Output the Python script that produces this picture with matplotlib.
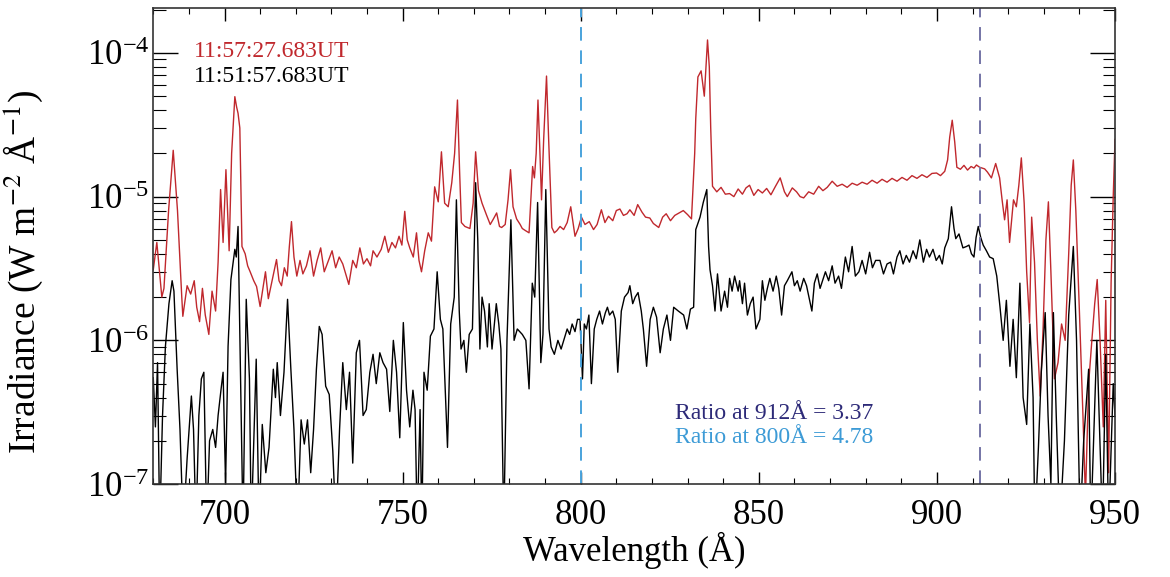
import numpy as np
import matplotlib
matplotlib.use("Agg")
import matplotlib.pyplot as plt
from matplotlib.ticker import MultipleLocator, LogLocator

plt.rcParams['font.family'] = ['Liberation Serif', 'DejaVu Serif']
plt.rcParams['mathtext.fontset'] = 'stix'

# irradiance in units of 1e-6 W m^-2 A^-1
wl_late = [680.0, 681.0, 682.4, 683.0, 684.3, 685.6, 686.8, 688.0, 688.3, 689.5, 690.5, 691.5,
           692.2, 693.0, 693.8, 694.6, 695.6, 696.5, 697.5, 698.2, 698.9, 699.6, 700.4, 701.3,
           702.0, 702.9, 703.4, 703.8, 704.3, 704.9, 705.8, 706.5, 707.2, 708.2, 709.0, 710.0,
           711.5, 712.3, 713.5, 714.6, 715.3, 716.0, 716.8, 717.6, 718.2, 718.8, 719.5, 720.3,
           721.2, 722.0, 723.0, 724.0, 725.0, 726.0, 727.0, 728.0, 729.0, 730.2, 731.2, 732.2,
           733.2, 734.9, 736.0, 737.0, 738.0, 739.0, 740.0, 741.0, 741.7, 742.8, 744.0, 745.0,
           746.0, 747.0, 748.0, 749.0, 749.8, 750.6, 751.3, 752.0, 753.0, 753.9, 754.6, 755.3,
           756.2, 757.2, 758.1, 759.0, 760.0, 760.9, 761.8, 762.8, 763.8, 764.6, 765.4, 766.0,
           766.5, 767.5, 768.9, 769.8, 770.5, 771.3, 772.3, 773.6, 774.6, 775.5, 776.4, 777.2,
           777.8, 778.8, 779.6, 780.3, 781.0, 782.0, 783.0, 783.6, 784.5, 785.5, 786.5, 787.0,
           787.5, 788.0, 788.5, 789.0, 789.6, 790.4, 791.0, 791.9, 792.6, 793.3, 794.2, 795.2,
           796.2, 797.2, 798.4, 799.3, 800.2, 801.2, 802.4, 803.6, 804.6, 805.8, 806.8, 807.8,
           809.0, 810.0, 811.0, 812.0, 813.0, 813.8, 815.0, 816.0, 817.2, 818.2, 819.4, 820.4,
           821.9, 823.0, 824.0, 825.2, 826.4, 827.6, 828.8, 830.0, 831.1, 832.0, 832.3, 832.9,
           833.8, 834.7, 835.6, 836.1, 836.5, 837.0, 838.2, 839.4, 840.6, 841.8, 843.0, 844.2,
           845.4, 846.4, 847.4, 848.6, 849.8, 851.0, 852.2, 853.4, 854.6, 856.0, 857.2, 858.0,
           859.4, 860.6, 861.6, 862.6, 864.0, 865.4, 866.8, 868.0, 869.2, 870.6, 872.0, 873.4,
           874.8, 876.2, 877.6, 879.0, 880.4, 881.8, 883.2, 884.6, 886.0, 887.4, 888.8, 890.2,
           891.6, 893.0, 894.4, 895.8, 897.2, 898.6, 899.9, 901.0, 902.2, 903.0, 903.6, 904.3,
           905.0, 905.6, 906.6, 907.6, 908.6, 909.6, 910.4, 911.1, 912.0, 913.4, 914.2, 915.3,
           916.5, 917.6, 918.3, 919.0, 919.7, 920.4, 921.5, 922.3, 923.0, 923.7, 924.5, 925.2,
           926.0, 926.6, 927.4, 928.2, 929.0, 929.8, 930.6, 931.3, 932.0, 933.0, 934.0, 935.0,
           936.0, 937.0, 937.7, 938.3, 939.0, 940.0, 941.0, 941.7, 942.6, 943.5, 944.3, 945.0,
           945.8, 946.7, 947.4, 948.2, 948.9, 949.5, 950.0]
irr_late = [3.1, 4.8, 2.0, 2.3, 8.0, 21, 8.0, 2.0, 1.47, 2.4, 2.1, 2.6,
            1.7, 1.35, 2.3, 1.5, 1.1, 2.2, 1.6, 3.5, 11.2, 4.8, 15.4, 4.2,
            20, 49.6, 42, 38, 30, 4.5, 4.0, 3.3, 3.0, 2.6, 2.37, 1.72,
            3.0, 1.95, 2.7, 3.65, 2.6, 2.4, 3.2, 2.8, 4.5, 6.7, 3.8, 2.8,
            3.6, 2.9, 3.3, 4.2, 2.8, 3.6, 4.4, 3.0, 3.5, 4.2, 3.2, 3.8,
            3.4, 2.45, 3.6, 3.2, 4.4, 3.4, 3.7, 3.3, 4.2, 3.8, 4.3, 5.3,
            4.1, 4.8, 4.4, 5.3, 4.6, 7.9, 5.0, 4.4, 3.8, 5.6, 3.6, 3.0,
            4.2, 5.6, 4.9, 11.7, 9.2, 20.5, 9.0, 8.5, 12.5, 20, 47, 15,
            6.6, 6.2, 6.0, 9.0, 20.5, 11, 9.0, 7.4, 6.4, 7.0, 7.7, 6.2,
            6.1, 6.4, 9.5, 15.4, 8.5, 7.0, 6.4, 6.0, 5.8, 5.6, 16.2, 13.5,
            20, 47, 22, 9.5, 25, 69, 25, 6.1, 5.6, 5.8, 6.2, 5.9,
            6.6, 8.5, 5.3, 6.0, 7.2, 6.4, 6.7, 5.9, 6.4, 8.1, 6.6, 7.3,
            6.8, 8.0, 8.2, 7.4, 7.6, 8.1, 7.4, 8.8, 7.8, 7.2, 7.1, 6.5,
            6.1, 7.2, 7.6, 6.8, 7.4, 7.7, 8.0, 7.5, 7.0, 20, 35, 68,
            75, 50, 123, 80, 30, 11.8, 10.8, 11.6, 10.4, 10.5, 10.0, 11.3,
            10.4, 11.5, 12.0, 10.2, 11.2, 10.6, 11.4, 10.3, 11.7, 13.5, 10.8, 10.0,
            11.5, 10.8, 10.0, 9.8, 10.8, 10.4, 11.8, 11.0, 11.6, 12.8, 11.8, 12.2,
            11.6, 12.4, 12.0, 12.6, 12.2, 13.0, 12.4, 13.2, 12.6, 13.4, 12.8, 13.6,
            13.0, 14.0, 13.4, 14.2, 13.6, 14.5, 14.6, 14.0, 15.0, 18, 26, 34,
            24, 16, 15.5, 16.5, 15.3, 16.2, 15.8, 16.6, 16.0, 15.6, 14.8, 13.5,
            17.0, 13.5, 9.5, 6.9, 9.5, 4.8, 9.5, 8.5, 12, 18.6, 9.0, 3.0,
            1.33, 7.2, 3.5, 1.0, 0.41, 1.2, 5.0, 9.2, 3.0, 0.54, 0.7, 1.3,
            1.0, 4.0, 12, 18, 8.0, 1.6, 0.3, 0.08, 0.5, 1.0, 1.8, 2.65,
            1.0, 0.25, 1.9, 0.12, 2.5, 10, 25]

wl_early = [680.0, 680.6, 681.2, 681.8, 682.6, 683.4, 684.4, 685.3, 685.8, 686.7, 687.5, 688.4,
            689.5, 690.7, 691.3, 692.0, 692.8, 693.5, 694.2, 695.0, 695.8, 696.7, 697.5, 698.2,
            699.0, 699.6, 700.3, 701.0, 701.8, 702.9, 703.3, 703.8, 704.5, 705.2, 706.1, 707.0,
            707.5, 708.9, 709.7, 710.6, 711.6, 712.5, 713.7, 714.3, 714.8, 715.7, 716.7, 717.7,
            718.6, 719.5, 720.5, 721.5, 722.4, 723.3, 724.2, 725.0, 725.8, 726.6, 727.4, 728.4,
            729.4, 730.4, 731.3, 732.3, 733.2, 734.2, 735.1, 736.0, 737.0, 737.9, 738.9, 739.8,
            740.8, 741.7, 742.6, 743.6, 744.5, 745.5, 746.4, 747.4, 748.3, 749.2, 750.2, 751.1,
            752.0, 752.9, 753.5, 754.1, 754.9, 755.4, 756.0, 756.9, 757.8, 758.8, 759.7, 760.6,
            761.3, 762.6, 763.5, 764.5, 765.1, 765.9, 766.4, 767.2, 767.9, 768.7, 769.6, 770.5,
            771.1, 771.7, 772.3, 773.0, 773.8, 774.3, 775.1, 776.3, 777.0, 777.6, 778.4, 779.3,
            780.4, 781.3, 782.2, 783.6, 784.6, 785.5, 786.4, 787.1, 787.9, 788.8, 789.4, 790.2,
            791.1, 791.7, 792.6, 793.6, 794.5, 795.5, 796.2, 796.9, 797.6, 798.4, 799.1, 799.8,
            800.5, 801.0, 801.6, 802.3, 803.0, 803.8, 804.5, 805.3, 806.1, 806.9, 807.5, 808.1,
            809.0, 809.7, 810.4, 811.4, 812.3, 813.3, 813.8, 814.6, 815.3, 816.1, 817.0, 817.6,
            818.5, 819.5, 820.4, 821.3, 822.3, 823.2, 824.2, 825.2, 826.1, 827.4, 828.9, 829.8,
            830.8, 831.7, 832.3, 833.5, 834.4, 835.4, 835.9, 836.3, 837.0, 837.7, 838.4, 839.4,
            840.4, 841.2, 841.8, 842.5, 843.2, 844.2, 844.6, 845.4, 846.0, 846.8, 847.6, 848.4,
            849.2, 850.3, 851.0, 851.7, 852.4, 853.1, 854.0, 854.9, 855.6, 856.4, 857.2, 858.0,
            859.3, 860.0, 860.8, 861.6, 862.6, 863.4, 864.9, 865.6, 866.4, 867.2, 868.7, 869.6,
            870.6, 871.4, 872.4, 873.2, 874.3, 875.2, 876.2, 877.1, 878.1, 879.0, 880.0, 881.1,
            881.9, 882.8, 884.0, 885.0, 886.0, 887.0, 887.8, 888.8, 889.6, 890.5, 891.4, 892.3,
            893.3, 894.2, 895.2, 896.2, 897.1, 897.9, 898.9, 899.8, 900.7, 901.5, 902.2, 903.2,
            904.1, 904.8, 905.3, 906.2, 907.3, 908.3, 909.0, 909.7, 910.4, 911.0, 911.6, 912.3,
            913.0, 913.9, 914.8, 915.8, 916.8, 917.7, 918.6, 919.5, 920.5, 921.4, 922.3, 923.3,
            924.2, 925.2, 926.1, 927.0, 927.5, 928.5, 929.3, 930.4, 931.2, 932.0, 932.7, 933.5,
            934.5, 935.8, 937.0, 938.3, 939.2, 940.2, 941.2, 942.6, 943.2, 944.9, 945.8, 946.5,
            947.4, 948.2, 949.5, 950.0]
irr_early = [0.55, 0.25, 0.7, 0.05, 0.3, 0.9, 1.8, 2.6, 2.2, 0.63, 0.24, 0.05,
             0.15, 0.41, 0.24, 0.05, 0.3, 0.54, 0.6, 0.05, 0.2, 0.24, 0.18, 0.3,
             0.45, 0.6, 0.1, 0.91, 2.65, 4.3, 3.8, 6.2, 0.54, 0.05, 1.93, 0.54,
             0.05, 0.74, 0.05, 0.26, 0.12, 0.18, 0.63, 0.4, 0.7, 0.3, 0.6, 1.93,
             0.65, 0.24, 0.05, 0.28, 0.19, 0.28, 0.12, 0.24, 0.63, 1.25, 1.1, 0.48,
             0.42, 0.17, 0.05, 0.24, 0.7, 0.33, 0.6, 0.14, 0.82, 1.0, 0.3, 0.33,
             0.6, 0.8, 0.5, 0.82, 0.7, 0.63, 0.32, 1.0, 0.6, 0.21, 1.33, 0.45,
             0.25, 0.45, 0.33, 0.05, 0.33, 0.05, 0.6, 0.45, 1.07, 1.2, 3.0, 1.4,
             1.2, 0.18, 1.3, 2.0, 9.5, 1.6, 0.87, 1.0, 0.6, 1.1, 1.2, 12.5,
             5.0, 0.87, 2.0, 1.6, 0.9, 1.8, 0.87, 1.8, 1.3, 0.87, 0.05, 1.0,
             6.9, 1.0, 1.2, 1.1, 1.0, 0.46, 2.5, 2.0, 9.1, 0.7, 1.1, 11.2,
             1.2, 0.9, 0.8, 1.0, 0.87, 1.05, 1.2, 1.1, 1.3, 1.15, 1.4, 1.4,
             0.54, 1.3, 1.2, 1.5, 0.5, 1.2, 1.4, 1.6, 1.3, 1.55, 1.7, 1.5,
             1.6, 1.4, 0.6, 1.6, 2.0, 2.15, 2.4, 1.8, 2.0, 2.15, 1.6, 1.19,
             0.66, 1.4, 1.7, 1.45, 0.82, 1.2, 1.5, 1.0, 1.7, 1.6, 1.5, 1.2,
             1.65, 1.7, 5.9, 7.2, 9.1, 11.2, 4.5, 3.1, 2.4, 1.6, 2.9, 1.6,
             2.2, 1.7, 2.7, 2.2, 2.8, 2.2, 2.6, 1.8, 2.5, 1.5, 1.8, 2.0,
             1.2, 1.4, 2.6, 1.9, 2.3, 2.7, 2.2, 2.8, 2.3, 1.5, 2.4, 2.6,
             3.0, 2.4, 2.6, 2.2, 2.7, 2.4, 1.6, 2.5, 2.9, 2.3, 3.0, 2.6,
             3.3, 2.5, 2.8, 2.3, 3.8, 3.0, 4.5, 2.8, 3.0, 3.6, 2.9, 4.1,
             3.2, 3.6, 3.6, 2.9, 3.4, 3.5, 2.9, 3.8, 4.2, 3.4, 3.9, 3.5,
             4.2, 3.7, 5.0, 3.5, 4.3, 3.8, 4.3, 3.6, 3.9, 3.4, 4.4, 5.1,
             8.5, 6.0, 5.1, 5.5, 4.4, 4.5, 4.6, 4.0, 3.8, 5.2, 6.2, 5.2,
             4.6, 4.2, 3.8, 3.7, 2.8, 1.72, 1.0, 1.9, 0.66, 1.4, 0.55, 2.5,
             0.4, 0.26, 1.3, 0.4, 0.05, 0.18, 0.6, 1.56, 0.3, 0.1, 1.56, 0.3,
             0.05, 0.2, 1.5, 4.5, 1.0, 0.05, 0.2, 0.63, 0.05, 1.0, 0.18, 0.05,
             0.8, 0.05, 0.5, 0.3]

label_late = "11:57:27.683UT"
label_early = "11:51:57.683UT"
ratio_912 = 3.37
ratio_800 = 4.78
mark_wl = [800, 912]

fig = plt.figure(figsize=(11.7, 5.77), dpi=100)
ax = fig.add_axes([0.131, 0.161, 0.822, 0.825])

ax.plot(wl_late, np.array(irr_late) * 1e-6, color='#c0282d', lw=1.0)
ax.plot(wl_early, np.array(irr_early) * 1e-6, color='black', lw=1.0)

ax.axvline(mark_wl[0], color='#4aa3dc', lw=1.4, dashes=(7, 5))
ax.axvline(mark_wl[1], color='#7474a6', lw=1.4, dashes=(7, 5))

ax.set_yscale('log')
ax.set_xlim(680, 950)
ax.set_ylim(1e-7, 2.05e-4)

ax.xaxis.set_major_locator(MultipleLocator(50))
ax.xaxis.set_minor_locator(MultipleLocator(10))
ax.yaxis.set_minor_locator(LogLocator(base=10, subs=np.arange(2, 10)))

ax.tick_params(axis='x', which='major', direction='in', length=9, width=1.0,
               top=True, labelsize=25, pad=11)
ax.tick_params(axis='x', which='minor', direction='in', length=4, width=0.8, top=True)
ax.tick_params(axis='y', which='major', direction='in', length=18, width=1.0,
               right=True, labelsize=25, pad=3)
ax.tick_params(axis='y', which='minor', direction='in', length=9, width=0.8, right=True)
for s in ax.spines.values():
    s.set_linewidth(1.2)
    s.set_color('#333333')

ax.set_xlabel("Wavelength (Å)", fontsize=25, labelpad=0)
ax.set_ylabel(r"Irradiance (W m$^{-2}$ Å$^{-1}$)", fontsize=27)
ax.yaxis.set_label_coords(-0.113, 0.445)

ax.text(0.042, 0.908, label_late, transform=ax.transAxes, color='#c0282d',
        fontsize=17, va='center', ha='left')
ax.text(0.042, 0.857, label_early, transform=ax.transAxes, color='black',
        fontsize=17, va='center', ha='left')
ax.text(0.5426, 0.149, "Ratio at 912Å = {:.2f}".format(ratio_912), transform=ax.transAxes,
        color='#2d2a78', fontsize=17, va='center', ha='left')
ax.text(0.5426, 0.097, "Ratio at 800Å = {:.2f}".format(ratio_800), transform=ax.transAxes,
        color='#3d9bd6', fontsize=17, va='center', ha='left')

fig.savefig("out.png", dpi=100)
